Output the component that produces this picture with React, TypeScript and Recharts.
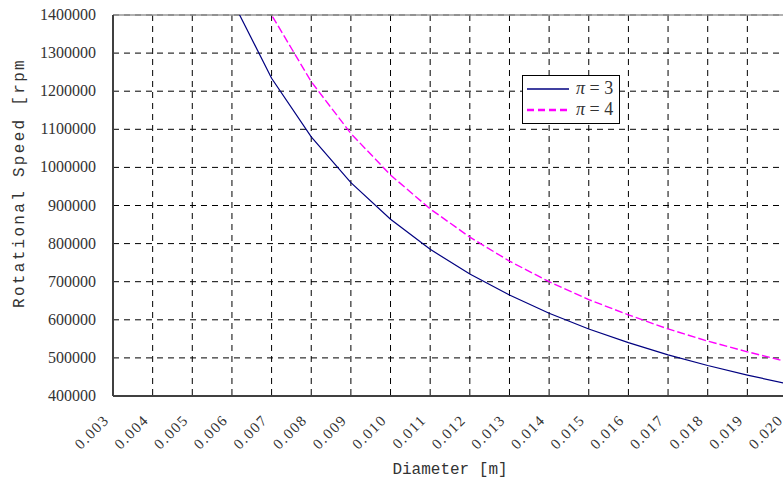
import React from 'react'
import { LineChart, Line, XAxis, YAxis, CartesianGrid, ReferenceLine, Legend, Label } from 'recharts'

// diameter [m] and rotational speed [rpm]
const diameters = [0.006, 0.007, 0.008, 0.009, 0.01, 0.011, 0.012, 0.013, 0.014, 0.015, 0.016, 0.017, 0.018, 0.019, 0.02]
const speedPi3 = [1440000, 1234000, 1080000, 960000, 864000, 785000, 720000, 665000, 617000, 576000, 540000, 508000, 480000, 455000, 432000]
const speedPi4 = [1633000, 1400000, 1225000, 1089000, 980000, 891000, 817000, 754000, 700000, 653000, 613000, 576000, 544000, 516000, 490000]

const xTicks = [0.003, 0.004, 0.005, 0.006, 0.007, 0.008, 0.009, 0.01, 0.011, 0.012, 0.013, 0.014, 0.015, 0.016, 0.017, 0.018, 0.019, 0.02]
const yTicks = [400000, 500000, 600000, 700000, 800000, 900000, 1000000, 1100000, 1200000, 1300000, 1400000]

const seriesNames = ['π = 3', 'π = 4']

const data = diameters.map((d, i) => ({ d, pi3: speedPi3[i], pi4: speedPi4[i] }))

const serif = 'Liberation Serif'
const mono = 'Liberation Mono'

const XTick = (props: any) => {
  const { x, y, payload } = props
  const tx = x - 3
  const ty = y + 17
  return (
    <text
      x={tx}
      y={ty}
      textAnchor="end"
      fontFamily={serif}
      fontSize={15}
      letterSpacing={1.5}
      fill="#333"
      transform={`rotate(-45 ${tx} ${ty})`}
    >
      {payload.value.toFixed(3)}
    </text>
  )
}

const YTick = (props: any) => {
  const { x, y, payload } = props
  return (
    <text x={x} y={y} dy={5} textAnchor="end" fontFamily={serif} fontSize={16} fill="#333">
      {payload.value}
    </text>
  )
}

const LegendBox = (props: any) => {
  const items = props.payload || []
  return (
    <div
      style={{
        border: '1px solid #000',
        background: '#fff',
        width: 92,
        padding: '2px 0 3px 4px',
        fontFamily: serif,
        fontSize: 18,
        color: '#333',
      }}
    >
      {items.map((it: any) => (
        <div key={it.value} style={{ display: 'flex', alignItems: 'center', height: 21 }}>
          <svg width={44} height={6}>
            <line
              x1={0}
              y1={3}
              x2={42}
              y2={3}
              stroke={it.color}
              strokeWidth={it.payload.strokeDasharray ? 2.5 : 1.3}
              strokeDasharray={it.payload.strokeDasharray ? '7 4' : undefined}
            />
          </svg>
          <span style={{ marginLeft: 5, whiteSpace: 'nowrap' }}>
            <i>π</i>
            {it.value.slice(1)}
          </span>
        </div>
      ))}
    </div>
  )
}

export default function App() {
  return (
    <div style={{ position: 'absolute', left: 0, top: 0, width: 783, height: 481, overflow: 'hidden', background: '#fff' }}>
      <LineChart width={800} height={481} data={data} margin={{ top: 15, right: 13, bottom: 0, left: 0 }}>
        <CartesianGrid stroke="#000" strokeDasharray="6 5" />
        <XAxis
          dataKey="d"
          type="number"
          domain={[0.003, 0.02]}
          ticks={xTicks}
          allowDataOverflow
          interval={0}
          height={85}
          stroke="#404040"
          strokeWidth={2}
          tickLine={false}
          tick={<XTick />}
        >
          <Label
            content={() => (
              <text x={450} y={474} textAnchor="middle" fontFamily={mono} fontSize={16} fill="#333">
                Diameter [m]
              </text>
            )}
          />
        </XAxis>
        <YAxis
          type="number"
          domain={[400000, 1400000]}
          ticks={yTicks}
          allowDataOverflow
          width={113}
          stroke="#404040"
          strokeWidth={2}
          tickLine={false}
          tickMargin={11}
          tick={<YTick />}
        >
          <Label
            content={() => (
              <text
                x={24}
                y={183}
                textAnchor="middle"
                fontFamily={mono}
                fontSize={16}
                letterSpacing={2.3}
                fill="#333"
                transform="rotate(-90 24 183)"
              >
                Rotational Speed [rpm
              </text>
            )}
          />
        </YAxis>
        <ReferenceLine y={1400000} stroke="#999" strokeWidth={1.5} />
        <Legend
          layout="horizontal"
          align="center"
          verticalAlign="middle"
          content={<LegendBox />}
          wrapperStyle={{ left: 522, top: 75, width: 'auto' }}
        />
        <Line
          dataKey="pi3"
          name={seriesNames[0]}
          stroke="#000080"
          strokeWidth={1.2}
          dot={false}
          isAnimationActive={false}
        />
        <Line
          dataKey="pi4"
          name={seriesNames[1]}
          stroke="#FF00FF"
          strokeWidth={1.4}
          strokeDasharray="8 3"
          dot={false}
          isAnimationActive={false}
        />
      </LineChart>
    </div>
  )
}
